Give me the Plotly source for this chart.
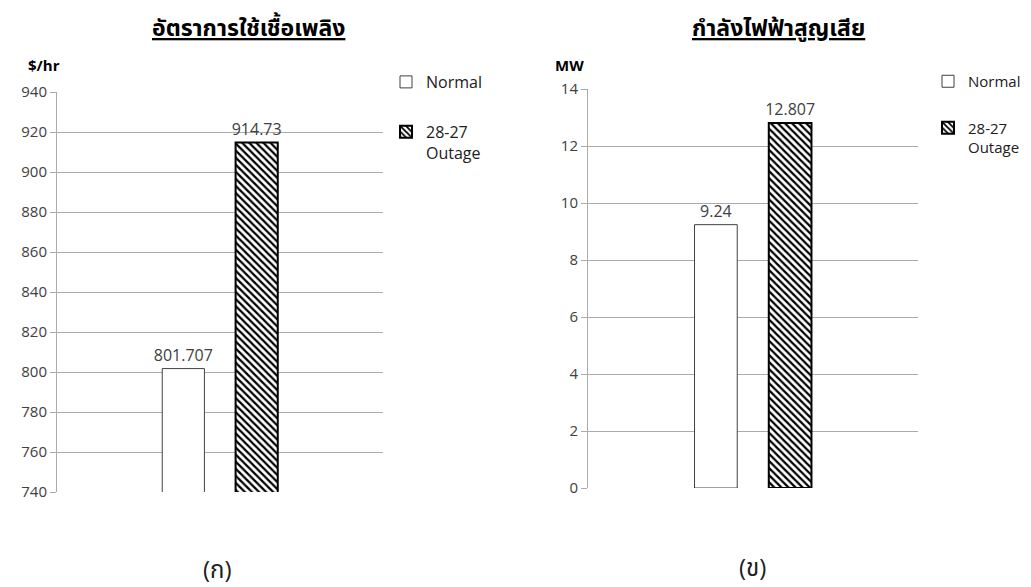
import plotly.graph_objects as go

series = ["Normal", "28-27<br>Outage"]
fuel_rate = [801.707, 914.73]
power_loss = [9.24, 12.807]
fuel_ticks = [740, 760, 780, 800, 820, 840, 860, 880, 900, 920, 940]
loss_ticks = [0, 2, 4, 6, 8, 10, 12, 14]
title_left = "อัตราการใช้เชื้อเพลิง"
title_right = "กำลังไฟฟ้าสูญเสีย"
unit_left = "$/hr"
unit_right = "MW"
cap_left = "(ก)"
cap_right = "(ข)"

FONT = "Open Sans, Noto Sans Thai, DejaVu Sans, sans-serif"
TXT = "#404040"
GRID = "#ababab"

styles = [
    dict(color="white", line=dict(color="#404040", width=1)),
    dict(color="white", line=dict(color="black", width=2),
         pattern=dict(shape="\\", fgcolor="black", bgcolor="white", size=5, solidity=0.45)),
]

fig = go.Figure()
for i, name in enumerate(series):
    fig.add_trace(go.Bar(
        x=["c"], y=[fuel_rate[i]], name=name, marker=styles[i], legendgroup=f"g{i}",
        text=[f"{fuel_rate[i]:g}"], textposition="outside", cliponaxis=False,
        constraintext="none",
        textfont=dict(size=16, color=TXT, family=FONT),
        xaxis="x", yaxis="y", legend="legend"))
for i, name in enumerate(series):
    fig.add_trace(go.Bar(
        x=["c"], y=[power_loss[i]], name=name, marker=styles[i], legendgroup=f"h{i}",
        text=[f"{power_loss[i]:g}"], textposition="outside", cliponaxis=False,
        constraintext="none",
        textfont=dict(size=16, color=TXT, family=FONT),
        xaxis="x2", yaxis="y2", legend="legend2"))

yax = dict(showgrid=True, gridcolor=GRID, gridwidth=1, showline=True, linecolor=GRID,
           ticks="outside", ticklen=6, tickcolor=GRID, zeroline=False, automargin=False,
           tickfont=dict(size=15, color=TXT, family=FONT))
xax = dict(showticklabels=False, showline=False, showgrid=False, zeroline=False,
           automargin=False)

fig.update_layout(
    template="none",
    width=1031, height=587,
    margin=dict(l=0, r=0, t=0, b=0, pad=0, autoexpand=False),
    paper_bgcolor="white", plot_bgcolor="white",
    font=dict(family=FONT, color=TXT),
    barmode="group", bargap=0.55, bargroupgap=0.425,
    xaxis=dict(domain=[57/1031, 383/1031], **xax),
    yaxis=dict(domain=[1-492/587, 1-92/587], range=[740, 940], tickvals=fuel_ticks, **yax),
    xaxis2=dict(domain=[588/1031, 918/1031], **xax),
    yaxis2=dict(domain=[1-488/587, 1-89/587], range=[0, 14], tickvals=loss_ticks,
                anchor="x2", **yax),
    legend=dict(x=386/1031, y=1-65/587, xanchor="left", yanchor="top", valign="top",
                font=dict(size=16, color="#202020", family=FONT),
                bgcolor="rgba(0,0,0,0)", tracegroupgap=26, itemwidth=30),
    legend2=dict(x=928/1031, y=1-65/587, xanchor="left", yanchor="top", valign="top",
                 font=dict(size=15, color="#202020", family=FONT),
                 bgcolor="rgba(0,0,0,0)", tracegroupgap=24, itemwidth=30),
    showlegend=True,
)

ann = [
    (248, 27, title_left, 23, True, "#000000"),
    (778, 27, title_right, 23, True, "#000000"),
    (44, 65, unit_left, 15, True, "#000000"),
    (569, 65, unit_right, 15, True, "#000000"),
    (217, 568, cap_left, 24, False, "#202020"),
    (752, 566, cap_right, 24, False, "#202020"),
]
for x, y, t, s, b, c in ann:
    txt = f"<b>{t}</b>" if b else t
    font = dict(size=s, color=c, family=FONT)
    if s == 23:
        font["lineposition"] = "under"
    fig.add_annotation(x=x/1031, y=1-y/587, xref="paper", yref="paper", text=txt,
                       showarrow=False, xanchor="center", yanchor="middle", font=font)

fig.write_html("out.html")
